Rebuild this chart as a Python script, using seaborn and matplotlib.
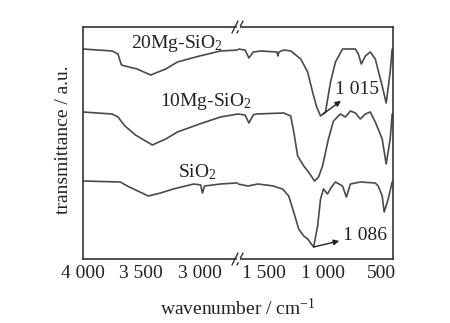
import numpy as np
import pandas as pd
import matplotlib
matplotlib.use("Agg")
import matplotlib.pyplot as plt
import seaborn as sns

sns.set_style("white")
plt.rcParams['font.family'] = ['Liberation Serif', 'DejaVu Serif']
plt.rcParams['mathtext.fontset'] = 'custom'
plt.rcParams['mathtext.rm'] = 'Liberation Serif'
plt.rcParams['mathtext.it'] = 'Liberation Serif:italic'

# ---- data (wavenumber cm-1, transmittance a.u. with offsets) ----
mg20_left_x = [4000, 3750, 3700, 3670, 3640, 3535, 3420, 3290, 3190, 3000, 2820, 2670]
mg20_left_y = [210, 208, 205, 194, 193, 190, 184, 190, 197, 203, 208, 209]
mg20_right_x = [1720, 1660, 1627, 1590, 1525, 1390, 1380, 1372, 1330, 1270, 1186, 1127, 1085,
                1050, 1017, 975, 932, 890, 830, 720, 695, 670, 635, 593, 551, 492, 458, 424, 407]
mg20_right_y = [210, 209, 201, 207, 208, 207, 203, 207, 209, 208, 200, 187, 167,
                152, 143, 147, 177, 197, 210, 210, 205, 195, 203, 207, 200, 173, 156, 187, 210]

mg10_left_x = [4000, 3750, 3700, 3640, 3550, 3405, 3290, 3190, 3000, 2820, 2670]
mg10_left_y = [147, 145, 142, 133, 124, 114, 120, 127, 135, 142, 145]
mg10_right_x = [1720, 1660, 1627, 1590, 1567, 1330, 1271, 1245, 1212, 1160, 1120, 1068, 1034,
                1000, 950, 907, 848, 805, 763, 720, 678, 636, 593, 551, 492, 458, 424, 407]
mg10_right_y = [145, 144, 136, 144, 145, 146, 143, 127, 103, 93, 87, 78, 82,
                93, 120, 138, 145, 142, 148, 146, 140, 145, 147, 137, 120, 95, 120, 145]

si_left_x = [4000, 3680, 3620, 3440, 3335, 3225, 3050, 2990, 2975, 2957, 2820, 2690, 2670]
si_left_y = [78, 77, 73, 63, 66, 70, 75, 74, 66, 73, 75, 76, 76]
si_right_x = [1720, 1635, 1550, 1415, 1398, 1340, 1288, 1246, 1203, 1160, 1127, 1076, 1042,
              1017, 992, 958, 924, 890, 830, 797, 763, 678, 551, 526, 492, 475, 441, 407]
si_right_y = [75, 73, 75, 73, 72, 70, 63, 47, 30, 23, 20, 12, 33,
              60, 70, 65, 72, 77, 73, 62, 75, 77, 76, 73, 63, 47, 60, 77]

series_names = ["20Mg-SiO$_2$", "10Mg-SiO$_2$", "SiO$_2$"]
left_ticks = [4000, 3500, 3000]
left_ticklabels = ["4 000", "3 500", "3 000"]
right_ticks = [1500, 1000, 500]
right_ticklabels = ["1 500", "1 000", "500"]

def frame(xs, ys, name):
    return pd.DataFrame({"wn": xs, "T": ys, "sample": name})

left_df = pd.concat([frame(mg20_left_x, mg20_left_y, series_names[0]),
                     frame(mg10_left_x, mg10_left_y, series_names[1]),
                     frame(si_left_x, si_left_y, series_names[2])])
right_df = pd.concat([frame(mg20_right_x, mg20_right_y, series_names[0]),
                      frame(mg10_right_x, mg10_right_y, series_names[1]),
                      frame(si_right_x, si_right_y, series_names[2])])

W, H = 450, 323
fig = plt.figure(figsize=(4.5, 3.23), dpi=100)
L, R, B, T = 83 / W, 393 / W, 1 - 259 / H, 1 - 27 / H
mid = 238 / W
axl = fig.add_axes([L, B, mid - L, T - B])
axr = fig.add_axes([mid, B, R - mid, T - B])

lc = "#4a4a4a"
pal = {n: lc for n in series_names}
for ax, df in [(axl, left_df), (axr, right_df)]:
    sns.lineplot(data=df, x="wn", y="T", hue="sample", palette=pal, units="sample",
                 estimator=None, ax=ax, legend=False, linewidth=1.2)
    ax.set_ylim(0, 232)
    ax.set_yticks([])
    ax.set_xlabel("")
    ax.set_ylabel("")
    for s in ax.spines.values():
        s.set_color("#333333")
        s.set_linewidth(1.2)
    ax.tick_params(axis="x", direction="in", length=5, width=1.0, color="#333333",
                   labelsize=14, pad=4, labelcolor="#222222")

axl.set_xlim(4000, 2670)
axr.set_xlim(1720, 400)
axl.set_xticks(left_ticks)
axl.set_xticklabels(left_ticklabels)
axr.set_xticks(right_ticks)
axr.set_xticklabels(right_ticklabels)
axl.spines["right"].set_visible(False)
axr.spines["left"].set_visible(False)

# break marks
for yb in (B, T):
    for dx in (-3, 2):
        x0 = (238 + dx) / W
        fig.add_artist(plt.Line2D([x0 - 3 / W, x0 + 3 / W], [yb - 6 / H, yb + 6 / H],
                                  color="#333333", lw=1.0, transform=fig.transFigure))
    fig.add_artist(plt.Rectangle(((238 - 1.5) / W, yb - 1.5 / H), 2.5 / W, 3 / H,
                                 color="white", transform=fig.transFigure, zorder=5))

fs = 14
fig.text(177 / W, 1 - 43 / H, series_names[0], ha="center", va="center", fontsize=fs, color="#222222")
fig.text(206 / W, 1 - 102 / H, series_names[1], ha="center", va="center", fontsize=fs, color="#222222")
fig.text(197 / W, 1 - 172 / H, series_names[2], ha="center", va="center", fontsize=fs, color="#222222")

axr.annotate("1 015", xy=(995, 145), xytext=(895, 170), fontsize=fs, color="#222222",
             ha="left", va="center",
             arrowprops=dict(arrowstyle="<|-", color="#222222", lw=1.0, mutation_scale=8,
                             shrinkA=0, shrinkB=0))
axr.annotate("1 086", xy=(1076, 12), xytext=(830, 24), fontsize=fs, color="#222222",
             ha="left", va="center",
             arrowprops=dict(arrowstyle="<|-", color="#222222", lw=1.0, mutation_scale=8,
                             shrinkA=0, shrinkB=0))

fig.text(238 / W, 1 - 308 / H, "wavenumber / cm$^{-1}$", ha="center", va="center",
         fontsize=fs, color="#222222")
fig.text(63 / W, 1 - 140 / H, "transmittance / a.u.", ha="center", va="center",
         rotation=90, fontsize=fs, color="#222222")

fig.savefig("out.png", dpi=100)
